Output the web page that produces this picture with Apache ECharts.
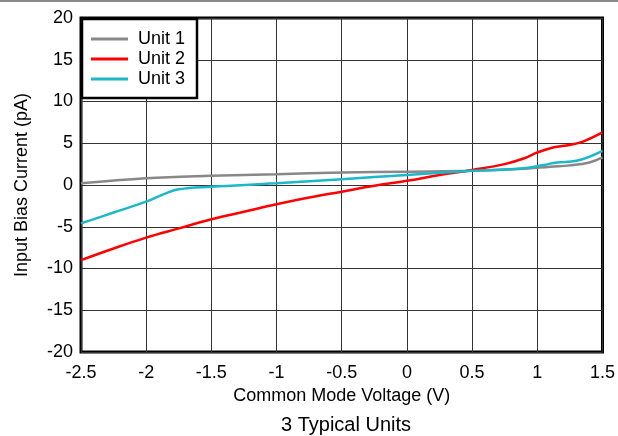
<!DOCTYPE html>
<html>
<head>
<meta charset="utf-8">
<script src="https://cdn.jsdelivr.net/npm/echarts@6/dist/echarts.min.js"></script>
<style>
  html, body { margin: 0; padding: 0; background: #fff; }
  #chart { width: 618px; height: 436px; }
</style>
</head>
<body>
<div id="chart"></div>
<script>
// values
const unitNames = ['Unit 1', 'Unit 2', 'Unit 3']
const unitColors = ['#888888', '#ff0000', '#1ab8c8']

const unit1V = [-2.5, -2, -1.5, -1, -0.5, 0, 0.5, 0.9, 1.1, 1.25, 1.4, 1.5]
const unit1I = [0.2, 0.8, 1.1, 1.3, 1.5, 1.6, 1.7, 1.95, 2.2, 2.35, 2.7, 3.3]

const unit2V = [-2.5, -2.25, -2, -1.75, -1.5, -1.25, -1, -0.75, -0.5, -0.25, 0, 0.25, 0.5, 0.75, 0.9, 1.0, 1.12, 1.25, 1.35, 1.5]
const unit2I = [-9.0, -7.6, -6.3, -5.2, -4.1, -3.2, -2.3, -1.5, -0.8, -0.1, 0.5, 1.2, 1.8, 2.5, 3.2, 3.9, 4.5, 4.8, 5.2, 6.3]

const unit3V = [-2.5, -2.25, -2, -1.85, -1.75, -1.5, -1, -0.5, 0, 0.5, 0.9, 1.05, 1.15, 1.3, 1.5]
const unit3I = [-4.6, -3.3, -2.0, -1.0, -0.5, -0.2, 0.2, 0.7, 1.2, 1.7, 2.0, 2.4, 2.7, 2.9, 4.1]

const xTicks = { min: -2.5, max: 1.5, step: 0.5 }
const yTicks = { min: -20, max: 20, step: 5 }

const pairs = (xs, ys) => xs.map((x, i) => [x, ys[i]])
const unitData = [pairs(unit1V, unit1I), pairs(unit2V, unit2I), pairs(unit3V, unit3I)]

const chart = echarts.init(document.getElementById('chart'))
const font = 'Liberation Sans, Arial, sans-serif'

const option = {
  animation: false,
  backgroundColor: '#fff',
  title: {
    text: '3 Typical Units',
    left: 341,
    textAlign: 'center',
    top: 410,
    textStyle: { fontFamily: font, fontSize: 20, fontWeight: 'normal', color: '#000' }
  },
  grid: {
    left: 81,
    right: 14,
    top: 18,
    bottom: 84,
    show: true,
    borderColor: '#000',
    borderWidth: 3
  },
  legend: {
    data: unitNames,
    orient: 'vertical',
    left: 86,
    top: 25,
    z: 10,
    icon: 'rect',
    itemWidth: 37,
    itemHeight: 3,
    itemGap: 2,
    textStyle: { fontFamily: font, fontSize: 18, color: '#000', padding: [0, 0, 0, 5] }
  },
  graphic: [
    {
      type: 'rect',
      z: 5,
      shape: { x: 82, y: 19, width: 115, height: 79 },
      style: { fill: '#fff', stroke: '#000', lineWidth: 2.5 }
    },
    {
      type: 'rect',
      z: 5,
      shape: { x: 0, y: 0, width: 618, height: 2 },
      style: { fill: '#8a8a8a' }
    }
  ],
  xAxis: {
    type: 'value',
    min: xTicks.min,
    max: xTicks.max,
    interval: xTicks.step,
    name: 'Common Mode Voltage (V)',
    nameLocation: 'middle',
    nameGap: 31,
    nameTextStyle: { fontFamily: font, fontSize: 18, color: '#000' },
    axisLine: { show: false },
    axisTick: { show: false },
    axisLabel: { fontFamily: font, fontSize: 18, color: '#000', margin: 12 },
    splitLine: { lineStyle: { color: '#333', width: 1 } }
  },
  yAxis: {
    type: 'value',
    min: yTicks.min,
    max: yTicks.max,
    interval: yTicks.step,
    name: 'Input Bias Current (pA)',
    nameLocation: 'middle',
    nameGap: 50,
    nameTextStyle: { fontFamily: font, fontSize: 18, color: '#000' },
    axisLine: { show: false },
    axisTick: { show: false },
    axisLabel: { fontFamily: font, fontSize: 18, color: '#000', margin: 8 },
    splitLine: { lineStyle: { color: '#333', width: 1 } }
  },
  series: unitNames.map((name, i) => ({
    name,
    type: 'line',
    data: unitData[i],
    smooth: 0.4,
    symbol: 'none',
    z: 3,
    itemStyle: { color: unitColors[i] },
    lineStyle: { color: unitColors[i], width: 2.5 }
  }))
}

chart.setOption(option)
</script>
</body>
</html>
